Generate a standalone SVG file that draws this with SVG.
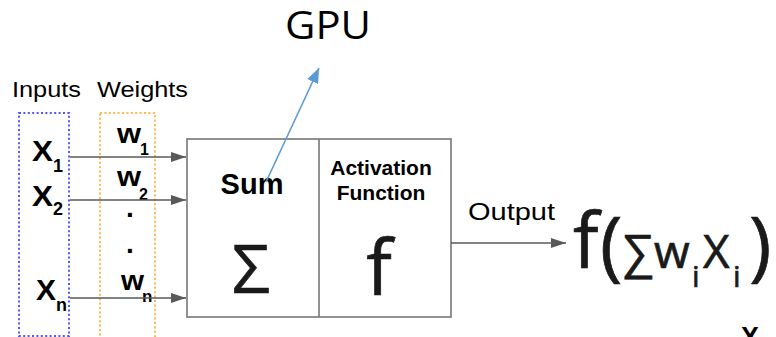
<svg xmlns="http://www.w3.org/2000/svg" width="776" height="337" viewBox="0 0 776 337">
  <style>
    .lbl { font-family: "Liberation Sans", Arial, sans-serif; fill: #000; }
    .b { font-weight: bold; }
    .math { font-family: "Open Sans", "Noto Sans", sans-serif; fill: #1a1a1a; stroke: #1a1a1a; stroke-width: 0.7; }
    .wire { stroke: #595959; stroke-width: 1.6; fill: none; }
    .frame { stroke: #767676; stroke-width: 1.6; fill: #fff; }
    .grp-in { stroke: #5555ff; stroke-width: 2; stroke-dasharray: 2 2.4; fill: none; }
    .grp-w { stroke: #ffb84a; stroke-width: 2; stroke-dasharray: 2 2.4; fill: none; }
  </style>
  <defs>
    <marker id="arrowGrey" markerUnits="userSpaceOnUse" markerWidth="15" markerHeight="10" refX="15" refY="5" orient="auto">
      <path d="M0,0 L15,5 L0,10 z" fill="#595959"/>
    </marker>
    <marker id="arrowBlue" markerUnits="userSpaceOnUse" markerWidth="15" markerHeight="12" refX="15" refY="6" orient="auto">
      <path d="M0,0 L15,6 L0,12 z" fill="#5b9bd5"/>
    </marker>
  </defs>

  <rect width="776" height="337" fill="#fff"/>

  <!-- group headers and dotted group frames -->
  <g id="inputs">
    <rect class="grp-in" x="19" y="113" width="50" height="223"/>
    <text class="lbl" x="12" y="97" font-size="22" textLength="69" lengthAdjust="spacingAndGlyphs">Inputs</text>
    <text class="lbl b" x="32" y="161" font-size="29" textLength="21" lengthAdjust="spacingAndGlyphs">X</text>
    <text class="lbl b" x="53" y="172" font-size="18">1</text>
    <text class="lbl b" x="32" y="206" font-size="29" textLength="21" lengthAdjust="spacingAndGlyphs">X</text>
    <text class="lbl b" x="53" y="215" font-size="18">2</text>
    <text class="lbl b" x="36" y="300" font-size="29" textLength="20" lengthAdjust="spacingAndGlyphs">X</text>
    <text class="lbl b" x="56" y="311" font-size="18">n</text>
  </g>

  <g id="weights">
    <rect class="grp-w" x="100" y="113" width="55" height="230"/>
    <text class="lbl" x="97" y="97" font-size="22" textLength="91" lengthAdjust="spacingAndGlyphs">Weights</text>
    <text class="lbl b" x="117" y="143" font-size="28" textLength="24" lengthAdjust="spacingAndGlyphs">w</text>
    <text class="lbl b" x="140" y="155" font-size="16">1</text>
    <text class="lbl b" x="117" y="186" font-size="28" textLength="24" lengthAdjust="spacingAndGlyphs">w</text>
    <text class="lbl b" x="139" y="200" font-size="16">2</text>
    <text class="lbl b" x="130" y="217" font-size="28" text-anchor="middle">.</text>
    <text class="lbl b" x="130" y="253" font-size="28" text-anchor="middle">.</text>
    <text class="lbl b" x="121" y="290" font-size="28" textLength="23" lengthAdjust="spacingAndGlyphs">w</text>
    <text class="lbl b" x="142" y="302" font-size="17">n</text>
  </g>

  <!-- neuron body: summation and activation halves -->
  <g id="neuron">
    <rect class="frame" x="187" y="139" width="264" height="178"/>
    <line class="frame" x1="319" y1="139" x2="319" y2="317"/>
  </g>

  <g id="sum">
    <text class="lbl b" x="252" y="194" font-size="29" text-anchor="middle">Sum</text>
    <text class="math" x="251" y="293" font-size="67" text-anchor="middle">Σ</text>
  </g>

  <g id="activation">
    <text class="lbl b" x="381" y="175" font-size="21" text-anchor="middle">Activation</text>
    <text class="lbl b" x="381" y="200" font-size="21" text-anchor="middle">Function</text>
    <text class="math" x="379" y="295" font-size="76" text-anchor="middle">f</text>
  </g>

  <g id="gpu">
    <text x="285" y="39" font-family="Open Sans, Noto Sans, sans-serif" font-size="38" fill="#000" textLength="86" lengthAdjust="spacingAndGlyphs">GPU</text>
  </g>

  <g id="output">
    <text class="lbl" x="468" y="220" font-size="24" textLength="87" lengthAdjust="spacingAndGlyphs">Output</text>
  </g>

  <!-- result expression f(Σ wi Xi) -->
  <g id="result">
    <text class="math" x="573" y="268" font-size="76">f</text>
    <text class="math" x="600" y="272" font-size="76">(</text>
    <text class="math" x="623" y="268" font-size="46" textLength="30" lengthAdjust="spacingAndGlyphs">∑</text>
    <text class="math" x="654" y="268" font-size="46">w</text>
    <text class="math" x="692" y="287" font-size="30">i</text>
    <text class="math" x="703" y="268" font-size="46">X</text>
    <text class="math" x="733" y="287" font-size="30">i</text>
    <text class="math" x="749" y="272" font-size="76">)</text>
  </g>

  <g id="extra-x">
    <text class="lbl b" x="741" y="347" font-size="29" textLength="18" lengthAdjust="spacingAndGlyphs">X</text>
  </g>

  <!-- connectors -->
  <g id="connectors">
    <line class="wire" x1="70" y1="157" x2="186" y2="157" marker-end="url(#arrowGrey)"/>
    <line class="wire" x1="70" y1="200" x2="186" y2="200" marker-end="url(#arrowGrey)"/>
    <line class="wire" x1="70" y1="298" x2="186" y2="298" marker-end="url(#arrowGrey)"/>
    <line class="wire" x1="451" y1="243" x2="566" y2="243" marker-end="url(#arrowGrey)"/>
    <line x1="266" y1="182" x2="319" y2="68" stroke="#5b9bd5" stroke-width="1.6" marker-end="url(#arrowBlue)"/>
  </g>
</svg>
